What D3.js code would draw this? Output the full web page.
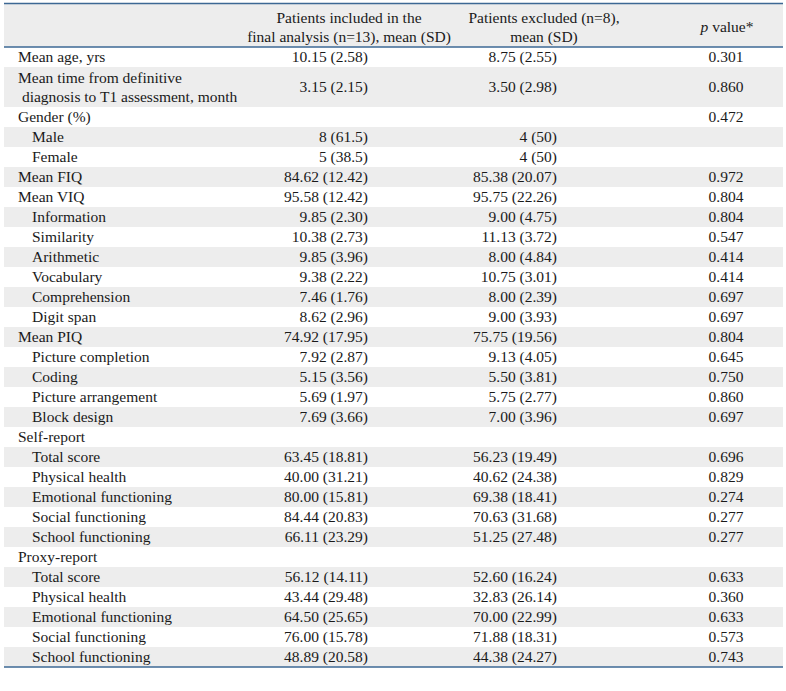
<!DOCTYPE html>
<html>
<head>
<meta charset="utf-8">
<script src="https://cdn.jsdelivr.net/npm/d3@7"></script>
<style>
  html, body { margin: 0; padding: 0; background: #fff; }
  svg { display: block; }
</style>
</head>
<body>
<svg id="chart" width="786" height="691"></svg>
<script>
// ---- Data ----
const headers = [
  ["", ""],
  ["Patients included in the", "final analysis (n=13), mean (SD)"],
  ["Patients excluded (n=8),", "mean (SD)"],
  ["p value*"]
];
const labels = [
  ["Mean age, yrs"],
  ["Mean time from definitive", " diagnosis to T1 assessment, month"],
  ["Gender (%)"], ["Male"], ["Female"],
  ["Mean FIQ"], ["Mean VIQ"],
  ["Information"], ["Similarity"], ["Arithmetic"], ["Vocabulary"], ["Comprehension"], ["Digit span"],
  ["Mean PIQ"],
  ["Picture completion"], ["Coding"], ["Picture arrangement"], ["Block design"],
  ["Self-report"],
  ["Total score"], ["Physical health"], ["Emotional functioning"], ["Social functioning"], ["School functioning"],
  ["Proxy-report"],
  ["Total score"], ["Physical health"], ["Emotional functioning"], ["Social functioning"], ["School functioning"]
];
const indent = [0,0,0,1,1,0,0,1,1,1,1,1,1,0,1,1,1,1,0,1,1,1,1,1,0,1,1,1,1,1];
const included = ["10.15 (2.58)","3.15 (2.15)","","8 (61.5)","5 (38.5)","84.62 (12.42)","95.58 (12.42)",
  "9.85 (2.30)","10.38 (2.73)","9.85 (3.96)","9.38 (2.22)","7.46 (1.76)","8.62 (2.96)","74.92 (17.95)",
  "7.92 (2.87)","5.15 (3.56)","5.69 (1.97)","7.69 (3.66)","",
  "63.45 (18.81)","40.00 (31.21)","80.00 (15.81)","84.44 (20.83)","66.11 (23.29)","",
  "56.12 (14.11)","43.44 (29.48)","64.50 (25.65)","76.00 (15.78)","48.89 (20.58)"];
const excluded = ["8.75 (2.55)","3.50 (2.98)","","4 (50)","4 (50)","85.38 (20.07)","95.75 (22.26)",
  "9.00 (4.75)","11.13 (3.72)","8.00 (4.84)","10.75 (3.01)","8.00 (2.39)","9.00 (3.93)","75.75 (19.56)",
  "9.13 (4.05)","5.50 (3.81)","5.75 (2.77)","7.00 (3.96)","",
  "56.23 (19.49)","40.62 (24.38)","69.38 (18.41)","70.63 (31.68)","51.25 (27.48)","",
  "52.60 (16.24)","32.83 (26.14)","70.00 (22.99)","71.88 (18.31)","44.38 (24.27)"];
const pvalues = ["0.301","0.860","0.472","","","0.972","0.804","0.804","0.547","0.414","0.414","0.697","0.697",
  "0.804","0.645","0.750","0.860","0.697","","0.696","0.829","0.274","0.277","0.277","",
  "0.633","0.360","0.633","0.573","0.743"];

// ---- Layout ----
const svg = d3.select("#chart");
const font = "'Liberation Serif', 'Times New Roman', serif";
const fs = 15.5;
const textCol = "#1a1a1a";
const lineCol = "#3d6894";
const stripe = "#ededed";
const left = 4, right = 783;
const headTop = 4, headBot = 47, tableBot = 667;

const rows = labels.map((l, i) => ({
  label: l, indent: indent[i], inc: included[i], exc: excluded[i], p: pvalues[i], lines: l.length
}));
let acc = 0;
rows.forEach(r => { r.start = acc; acc += r.lines; r.end = acc; });
const y = d3.scaleLinear().domain([0, acc]).range([headBot, tableBot]);

const x = d3.scaleOrdinal().domain(["label", "inc", "exc", "p"]).range([18, 368, 557, 726]);
const headX = d3.scaleOrdinal().domain([1, 2, 3]).range([349, 544, 727]);

svg.append("rect").attr("x", left).attr("y", headTop).attr("width", right - left)
  .attr("height", headBot - headTop).attr("fill", stripe);

svg.selectAll("rect.stripe").data(rows.filter((r, i) => i % 2 === 1)).join("rect")
  .attr("class", "stripe")
  .attr("x", left).attr("width", right - left)
  .attr("y", d => y(d.start)).attr("height", d => y(d.end) - y(d.start))
  .attr("fill", stripe);

headers.forEach((h, ci) => {
  if (ci === 0) return;
  const cx = headX(ci);
  if (h.length === 1) {
    const t = svg.append("text").attr("x", cx).attr("y", 27)
      .attr("dy", "0.35em").attr("text-anchor", "middle")
      .attr("font-family", font).attr("font-size", fs).attr("fill", textCol);
    t.append("tspan").attr("font-style", "italic").text("p");
    t.append("tspan").text(" value*");
  } else {
    h.forEach((line, li) => {
      svg.append("text").attr("x", cx).attr("y", 18 + li * 19)
        .attr("dy", "0.35em").attr("text-anchor", "middle")
        .attr("font-family", font).attr("font-size", fs).attr("fill", textCol).text(line);
    });
  }
});

const g = svg.selectAll("g.row").data(rows).join("g").attr("class", "row");
g.each(function(d) {
  const sel = d3.select(this);
  const mid = (y(d.start) + y(d.end)) / 2;
  d.label.forEach((line, li) => {
    const n = d.label.length;
    const ly = mid + (li - (n - 1) / 2) * 18.5;
    sel.append("text")
      .attr("x", x("label") + d.indent * 14)
      .attr("y", ly).attr("dy", "0.35em")
      .attr("font-family", font).attr("font-size", fs).attr("fill", textCol)
      .attr("xml:space", "preserve")
      .style("white-space", "pre")
      .text(line);
  });
  sel.append("text").attr("x", x("inc")).attr("y", mid).attr("dy", "0.35em")
    .attr("text-anchor", "end").attr("font-family", font).attr("font-size", fs).attr("fill", textCol)
    .text(d.inc);
  sel.append("text").attr("x", x("exc")).attr("y", mid).attr("dy", "0.35em")
    .attr("text-anchor", "end").attr("font-family", font).attr("font-size", fs).attr("fill", textCol)
    .text(d.exc);
  sel.append("text").attr("x", x("p")).attr("y", mid).attr("dy", "0.35em")
    .attr("text-anchor", "middle").attr("font-family", font).attr("font-size", fs).attr("fill", textCol)
    .text(d.p);
});

[headTop - 0.5, headBot, tableBot].forEach(yy => {
  svg.append("line").attr("x1", left).attr("x2", right).attr("y1", yy).attr("y2", yy)
    .attr("stroke", lineCol).attr("stroke-width", 1.5);
});
</script>
</body>
</html>
